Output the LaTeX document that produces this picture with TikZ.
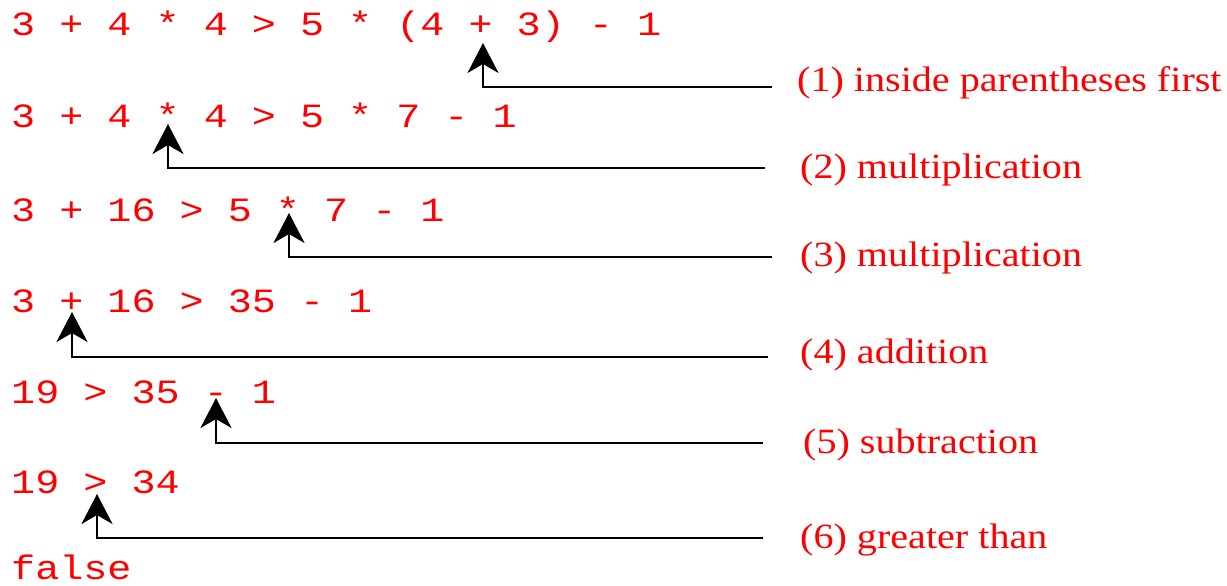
\documentclass[tikz,border=0pt]{standalone}
\usepackage{fontspec}
\usepackage{xcolor}
\usepackage{tikz}
\usetikzlibrary{arrows.meta,positioning,calc}
\newfontfamily\exprfont[FakeStretch=1.18]{Liberation Mono}
\newfontfamily\notefont[FakeStretch=1.13]{Liberation Serif}

\begin{document}
\begin{tikzpicture}[x=1pt,y=-1pt,
expr/.style={anchor=base west,inner sep=0pt,text=red,font=\fontsize{34}{40}\selectfont\exprfont},
note/.style={anchor=base west,inner sep=0pt,text=red,font=\fontsize{35.5}{40}\selectfont\notefont},
arr/.style={-{Stealth[length=30pt,width=31pt,inset=9pt]},line width=2.7pt}
]
\useasboundingbox (0,0) rectangle (1227,586);
% expressions, one step per row
\node[expr] (e1) at (11,36) {3 + 4 * 4 > 5 * (4 + 3) - 1};
\node[expr] (e2) at (11,128) {3 + 4 * 4 > 5 * 7 - 1};
\node[expr] (e3) at (11,221) {3 + 16 > 5 * 7 - 1};
\node[expr] (e4) at (11,312) {3 + 16 > 35 - 1};
\node[expr] (e5) at (11,403) {19 > 35 - 1};
\node[expr] (e6) at (11,493) {19 > 34};
\node[expr] (e7) at (11,579) {false};
% notes
\node[note] (n1) at (797,92) {(1) inside parentheses first};
\node[note] (n2) at (800,178) {(2) multiplication};
\node[note] (n3) at (800,266) {(3) multiplication};
\node[note] (n4) at (800,363) {(4) addition};
\node[note] (n5) at (803,453) {(5) subtraction};
\node[note] (n6) at (800,548) {(6) greater than};
% arrows
\coordinate (t1) at (483,43);  \coordinate (s1) at (772,87);
\coordinate (t2) at (168,124); \coordinate (s2) at (765,168);
\coordinate (t3) at (289,213); \coordinate (s3) at (772,257);
\coordinate (t4) at (72,312);  \coordinate (s4) at (768,357);
\coordinate (t5) at (216,398); \coordinate (s5) at (763,443);
\coordinate (t6) at (97,494);  \coordinate (s6) at (763,538);
\draw[arr] (s1) -| (t1);
\draw[arr] (s2) -| (t2);
\draw[arr] (s3) -| (t3);
\draw[arr] (s4) -| (t4);
\draw[arr] (s5) -| (t5);
\draw[arr] (s6) -| (t6);
\end{tikzpicture}
\end{document}
